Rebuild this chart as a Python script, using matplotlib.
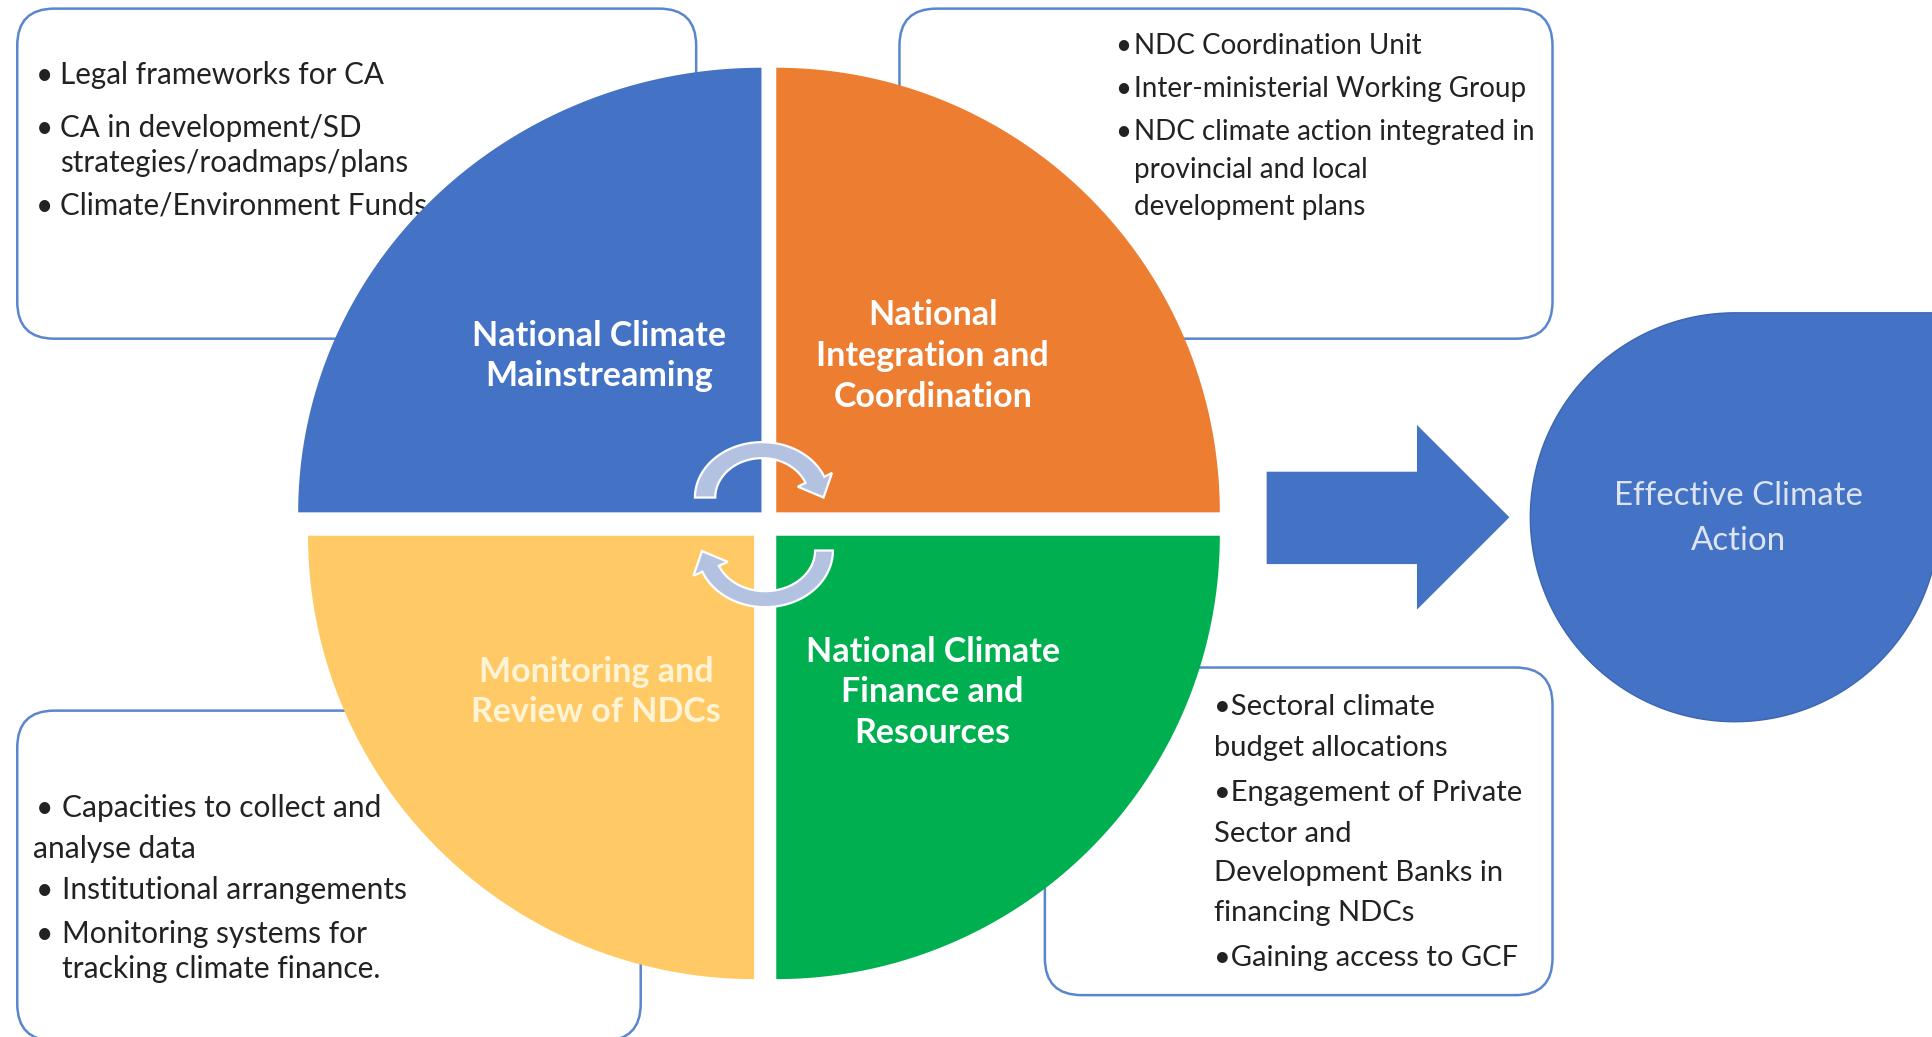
import numpy as np
import matplotlib
matplotlib.use("Agg")
import matplotlib.pyplot as plt
from matplotlib.patches import Polygon, FancyBboxPatch

plt.rcParams['font.family'] = ['Lato', 'DejaVu Sans']

# ---------------- content ----------------
quadrant_labels = ["National Climate\nMainstreaming",
                   "National\nIntegration and\nCoordination",
                   "Monitoring and\nReview of NDCs",
                   "National Climate\nFinance and\nResources"]
quadrant_colors = ["#4472C4", "#ED7D31", "#FFCA66", "#00B050"]
label_colors = ["#FFFFFF", "#FFFFFF", "#FFF4D6", "#FFFFFF"]

box_tl_lines = ["Legal frameworks for CA", "CA in development/SD",
                "strategies/roadmaps/plans", "Climate/Environment Funds"]
box_tr_lines = ["NDC Coordination Unit", "Inter-ministerial Working Group",
                "NDC climate action integrated in", "provincial and local",
                "development plans"]
box_br_lines = ["•Sectoral climate", "budget allocations",
                "•Engagement of Private", "Sector and",
                "Development Banks in", "financing NDCs",
                "•Gaining access to GCF"]
box_bl_lines = ["Capacities to collect and", "analyse data",
                "Institutional arrangements", "Monitoring systems for",
                "tracking climate finance."]
outcome_label = "Effective Climate\nAction"

BLUE = "#4472C4"
BORDER = "#5A85CF"
ARROW_LIGHT = "#B4C2E2"
TXT = "#222222"

W, H = 1568, 842
fig = plt.figure(figsize=(19.32, 10.37), dpi=100)
ax = fig.add_axes([0, 0, 1, 1])
ax.set_xlim(0, W)
ax.set_ylim(H, 0)
ax.axis('off')

# ---------------- rounded text boxes ----------------
def rbox(x0, y0, x1, y1, r=30):
    p = FancyBboxPatch((x0 + r, y0 + r), (x1 - x0) - 2 * r, (y1 - y0) - 2 * r,
                       boxstyle=f"round,pad={r}", fc="white", ec=BORDER,
                       lw=1.8, zorder=1)
    ax.add_patch(p)

rbox(14, 7, 565, 275)
rbox(730, 7, 1260, 275)
rbox(14, 577, 520, 845)
rbox(848, 542, 1260, 808)

def t(x, y, s, fs):
    ax.text(x, y, s, fontsize=fs, color=TXT, ha='left',
            va='center', zorder=2)

# top-left box
tl_y = [61, 104, 132, 167]
for i, (s, y) in enumerate(zip(box_tl_lines, tl_y)):
    if i != 2:
        t(29, y, "•", 21.3)
    t(49, y, s, 21.3)

# top-right box
tr_y = [37, 72, 107, 138, 168]
for i, (s, y) in enumerate(zip(box_tr_lines, tr_y)):
    if i < 3:
        t(905, y, "•", 20)
    t(920, y, s, 20)

# bottom-right box
br_y = [574, 607, 644, 677, 709, 741, 778]
for s, y in zip(box_br_lines, br_y):
    t(985, y, s, 21)

# bottom-left box
bl_y = [656, 689, 723, 758, 787]
bl_x = [50, 27, 50, 50, 50]
for i, (s, y, x) in enumerate(zip(box_bl_lines, bl_y, bl_x)):
    if i in (0, 2, 3):
        t(29, y, "•", 21.5)
    t(x, y, s, 21.5)

# ---------------- quadrants ----------------
def quadrant(cx, cy, rx, ry, a0, a1, color):
    a = np.radians(np.linspace(a0, a1, 200))
    xs = np.concatenate([[cx], cx + rx * np.cos(a)])
    ys = np.concatenate([[cy], cy - ry * np.sin(a)])
    ax.add_patch(Polygon(np.column_stack([xs, ys]), closed=True, fc=color,
                         ec='none', zorder=3))

quad_geo = [(618, 416, 376, 361, 90, 180),
            (630, 416, 360, 361, 0, 90),
            (612, 435, 362, 360, 180, 270),
            (630, 435, 360, 360, 270, 360)]
for (cx, cy, rx, ry, a0, a1), c in zip(quad_geo, quadrant_colors):
    quadrant(cx, cy, rx, ry, a0, a1, c)

label_pos = [(486, 289), (757, 289), (484, 562), (757, 562)]
for (x, y), s, c in zip(label_pos, quadrant_labels, label_colors):
    ax.text(x, y, s, fontsize=24.5, fontweight='bold', color=c, ha='center',
            va='center', linespacing=1.33, zorder=4)

# ---------------- circular arrows ----------------
def curved_arrow(cx, cy, rxo, ryo, rxi, ryi, t_start, t_base, head_len, head_w):
    ts = np.radians(np.linspace(t_start, t_base, 80))
    outer = np.column_stack([cx + rxo * np.cos(ts), cy - ryo * np.sin(ts)])
    inner = np.column_stack([cx + rxi * np.cos(ts), cy - ryi * np.sin(ts)])
    tb = np.radians(t_base)
    rxm, rym = (rxo + rxi) / 2, (ryo + ryi) / 2
    bx, by = cx + rxm * np.cos(tb), cy - rym * np.sin(tb)
    d = np.array([rxm * np.sin(tb), rym * np.cos(tb)])
    d = d / np.hypot(*d)
    n = np.array([np.cos(tb), -np.sin(tb)])
    tip = np.array([bx, by]) + head_len * d
    b_out = np.array([bx, by]) + n * head_w / 2
    b_in = np.array([bx, by]) - n * head_w / 2
    pts = np.vstack([outer, b_out, tip, b_in, inner[::-1]])
    ax.add_patch(Polygon(pts, closed=True, fc=ARROW_LIGHT, ec='white',
                         lw=1.6, zorder=5, joinstyle='miter'))

curved_arrow(618.5, 404, 54.5, 45, 38, 32, 180, 22, 16, 30)
curved_arrow(621, 447, 55, 46, 40.5, 33, 0, -158, 16, 30)

# ---------------- big arrow ----------------
arrow_pts = np.array([[1028, 383], [1150, 383], [1150, 345], [1225, 420],
                      [1150, 495], [1150, 458], [1028, 458]])
ax.add_patch(Polygon(arrow_pts, closed=True, fc=BLUE, ec='none', zorder=3))

# ---------------- teardrop outcome ----------------
cx, cy, r = 1408, 420, 166
a = np.radians(np.linspace(90, 360, 300))
tear = np.column_stack([cx + r * np.cos(a), cy - r * np.sin(a)])
tear = np.vstack([tear, [[cx + r, cy - r]]])
ax.add_patch(Polygon(tear, closed=True, fc=BLUE, ec='#3D66B0', lw=1.0, zorder=3))
ax.text(1411, 421, outcome_label, fontsize=23.8, color="#DDE4F2",
        ha='center', va='center', linespacing=1.61, zorder=4)

fig.savefig("out.png", dpi=100, facecolor="white")
